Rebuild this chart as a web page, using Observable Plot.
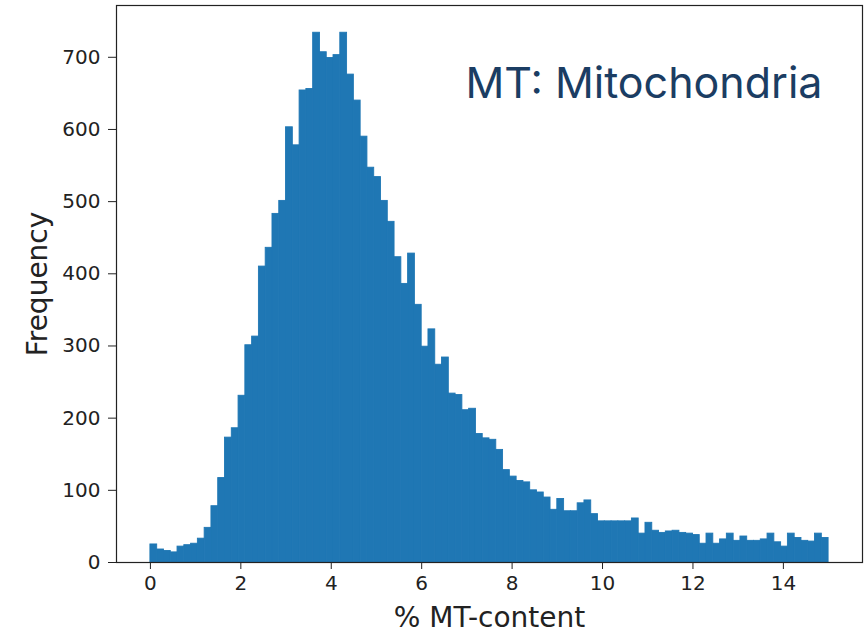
<!DOCTYPE html>
<html><head><meta charset="utf-8">
<script src="https://cdn.jsdelivr.net/npm/d3@7"></script>
<script src="https://cdn.jsdelivr.net/npm/@observablehq/plot@0.6"></script>
<style>body{margin:0;background:#fff} svg{display:block}</style>
</head><body><div id="chart"></div>
<script>
// Histogram: 100 bins of width 0.15 from 0 to 15 (% MT-content)
const binStart = 0;
const binWidth = 0.15;
const counts = [
  25, 18, 16, 14, 22, 24, 26, 33, 48, 78,
  117, 173, 186, 231, 301, 313, 410, 436, 483, 501,
  603, 578, 654, 656, 734, 707, 699, 703, 734, 676,
  640, 590, 547, 534, 501, 472, 423, 386, 428, 357,
  299, 323, 274, 284, 234, 232, 211, 213, 178, 172,
  170, 156, 128, 119, 113, 111, 100, 97, 90, 73,
  88, 71, 71, 82, 86, 67, 57, 57, 57, 57,
  57, 61, 40, 55, 44, 41, 43, 44, 41, 40,
  38, 26, 40, 26, 32, 40, 30, 36, 30, 30,
  32, 40, 28, 22, 40, 34, 30, 29, 40, 34
];
const xTicks = [0, 2, 4, 6, 8, 10, 12, 14];
const yTicks = [0, 100, 200, 300, 400, 500, 600, 700];
const xLabel = "% MT-content";
const yLabel = "Frequency";
const title = "MT: Mitochondria";

const bins = counts.map((c, i) => ({x1: binStart + i * binWidth, x2: binStart + (i + 1) * binWidth, count: c}));

const plot = Plot.plot({
  width: 867, height: 633,
  marginLeft: 116, marginRight: 5, marginTop: 5, marginBottom: 71,
  style: {fontFamily: "DejaVu Sans", background: "#fff", color: "#222"},
  x: {domain: [-0.75, 15.75]},
  y: {domain: [0, 771.75]},
  marks: [
    Plot.rectY(bins, {x1: "x1", x2: "x2", y: "count", fill: "#1f77b4", stroke: "#1f77b4", strokeWidth: 0.9, inset: 0}),
    Plot.frame({stroke: "#222", strokeWidth: 1.2}),
    Plot.axisX({ticks: xTicks, tickSize: 7, tickPadding: 6, fontSize: 20, label: null, tickFormat: d => String(d)}),
    Plot.axisY({ticks: yTicks, tickSize: 8, tickPadding: 8, fontSize: 20, label: null, tickFormat: d => String(d)}),
    Plot.text([xLabel], {text: d => d, frameAnchor: "bottom", dy: 64, lineAnchor: "bottom", fontSize: 28, fill: "#222"}),
    Plot.text([yLabel], {text: d => d, frameAnchor: "left", dx: -78, rotate: -90, textAnchor: "middle", fontSize: 28, fill: "#222"}),
    Plot.text([title], {text: d => d, frameAnchor: "top-right", dx: -40, dy: 92, textAnchor: "end", lineAnchor: "bottom", fontSize: 43, fontFamily: "Inter", fill: "#1b3d63"})
  ]
});
document.getElementById("chart").appendChild(plot);
</script>
</body></html>
